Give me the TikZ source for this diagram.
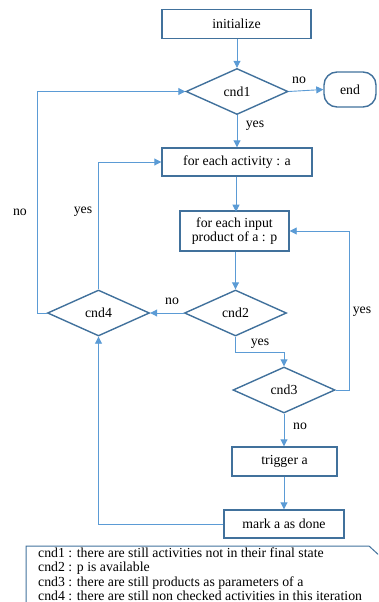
\documentclass[tikz,border=0pt]{standalone}
\usepackage{fontspec}
\setmainfont{Liberation Serif}
\usetikzlibrary{shapes.geometric,arrows.meta}
\definecolor{boxblue}{HTML}{41719C}
\definecolor{lineblue}{HTML}{5B9BD5}
\begin{document}
\begin{tikzpicture}[x=1pt,y=-1pt,
  every node/.style={font=\rmfamily\fontsize{13.8}{14.5}\selectfont},
  box/.style={draw=boxblue,line width=1.4pt,rectangle,inner sep=1pt,align=center},
  dia/.style={draw=boxblue,line width=1.4pt,diamond,inner sep=0pt,minimum width=102pt,minimum height=46pt},
  term/.style={draw=boxblue,line width=1.4pt,rectangle,rounded corners=13pt,inner sep=1pt},
  conn/.style={draw=lineblue,line width=0.9pt},
  arr/.style={conn,-{Triangle[length=7pt,width=7pt]}},
  lbl/.style={inner sep=0pt},
  legline/.style={anchor=base west,inner sep=0pt}]
\useasboundingbox (0,0) rectangle (378,602);
\clip (0,0) rectangle (378,602);
% nodes
\node[box,minimum width=149pt,minimum height=29pt] (init) at (236.5,24) {initialize};
\node[dia] (cnd1) at (237,91.5) {cnd1};
\node[term,minimum width=52pt,minimum height=35pt] (end) at (350,89.5) {end};
\node[box,minimum width=150pt,minimum height=28pt] (act) at (237,162) {for each activity : a};
\node[box,minimum width=109pt,minimum height=40pt] (inp) at (234.5,231) {for each input\\product of a : p};
\node[dia] (cnd2) at (235.5,313) {cnd2};
\node[dia] (cnd4) at (98.5,313) {cnd4};
\node[dia] (cnd3) at (284,390) {cnd3};
\node[box,minimum width=105pt,minimum height=29pt] (trig) at (284.5,461.5) {trigger a};
\node[box,minimum width=120pt,minimum height=28pt] (mark) at (284,524) {mark a as done};
\coordinate (r3) at (349,390);
\coordinate (l4) at (37,313);
% connectors
\draw[arr] (init.south -| cnd1.north) -- (cnd1.north);
\draw[arr] (cnd1.east) -- (end.west);
\draw[arr] (cnd1.south) -- (cnd1.south |- act.north);
\draw[arr] (act.south -| inp.north) ++(1.5,0) -- ++(0,35);
\draw[arr] (inp.south -| cnd2.north) -- (cnd2.north);
\draw[arr] (cnd2.west) -- (cnd4.east);
\draw[arr] (cnd2.south) -- ++(0,16) -| (cnd3.north);
\draw[arr] (cnd3.east) -- (r3) |- (inp.east);
\draw[arr] (cnd3.south) -- (cnd3.south |- trig.north);
\draw[arr] (trig.south -| mark.north) -- (mark.north);
\draw[arr] (mark.west) -| (cnd4.south);
\draw[arr] (cnd4.north) |- (act.west);
\draw[arr] (cnd4.west) -- (l4) |- (cnd1.west);
% labels
\node[lbl] (lno1) at (299,80) {no};
\node[lbl] (lyes1) at (255,126) {yes};
\node[lbl] (lno4) at (20,212) {no};
\node[lbl] (lyes4) at (83,212) {yes};
\node[lbl] (lno2) at (172,301) {no};
\node[lbl] (lyes2) at (260,344) {yes};
\node[lbl] (lyes3) at (362,312) {yes};
\node[lbl] (lno3) at (300,426) {no};
% legend
\draw[draw=boxblue,line width=1pt] (26,610) -- (26,546) -- (369,546) -- (381,557);
\node[legline] (leg1) at (38,557) {cnd1 : there are still activities not in their final state};
\node[legline] (leg2) at (38,571.5) {cnd2 : p is available};
\node[legline] (leg3) at (38,586) {cnd3 : there are still products as parameters of a};
\node[legline] (leg4) at (38,600.5) {cnd4 : there are still non checked activities in this iteration};
\end{tikzpicture}
\end{document}
